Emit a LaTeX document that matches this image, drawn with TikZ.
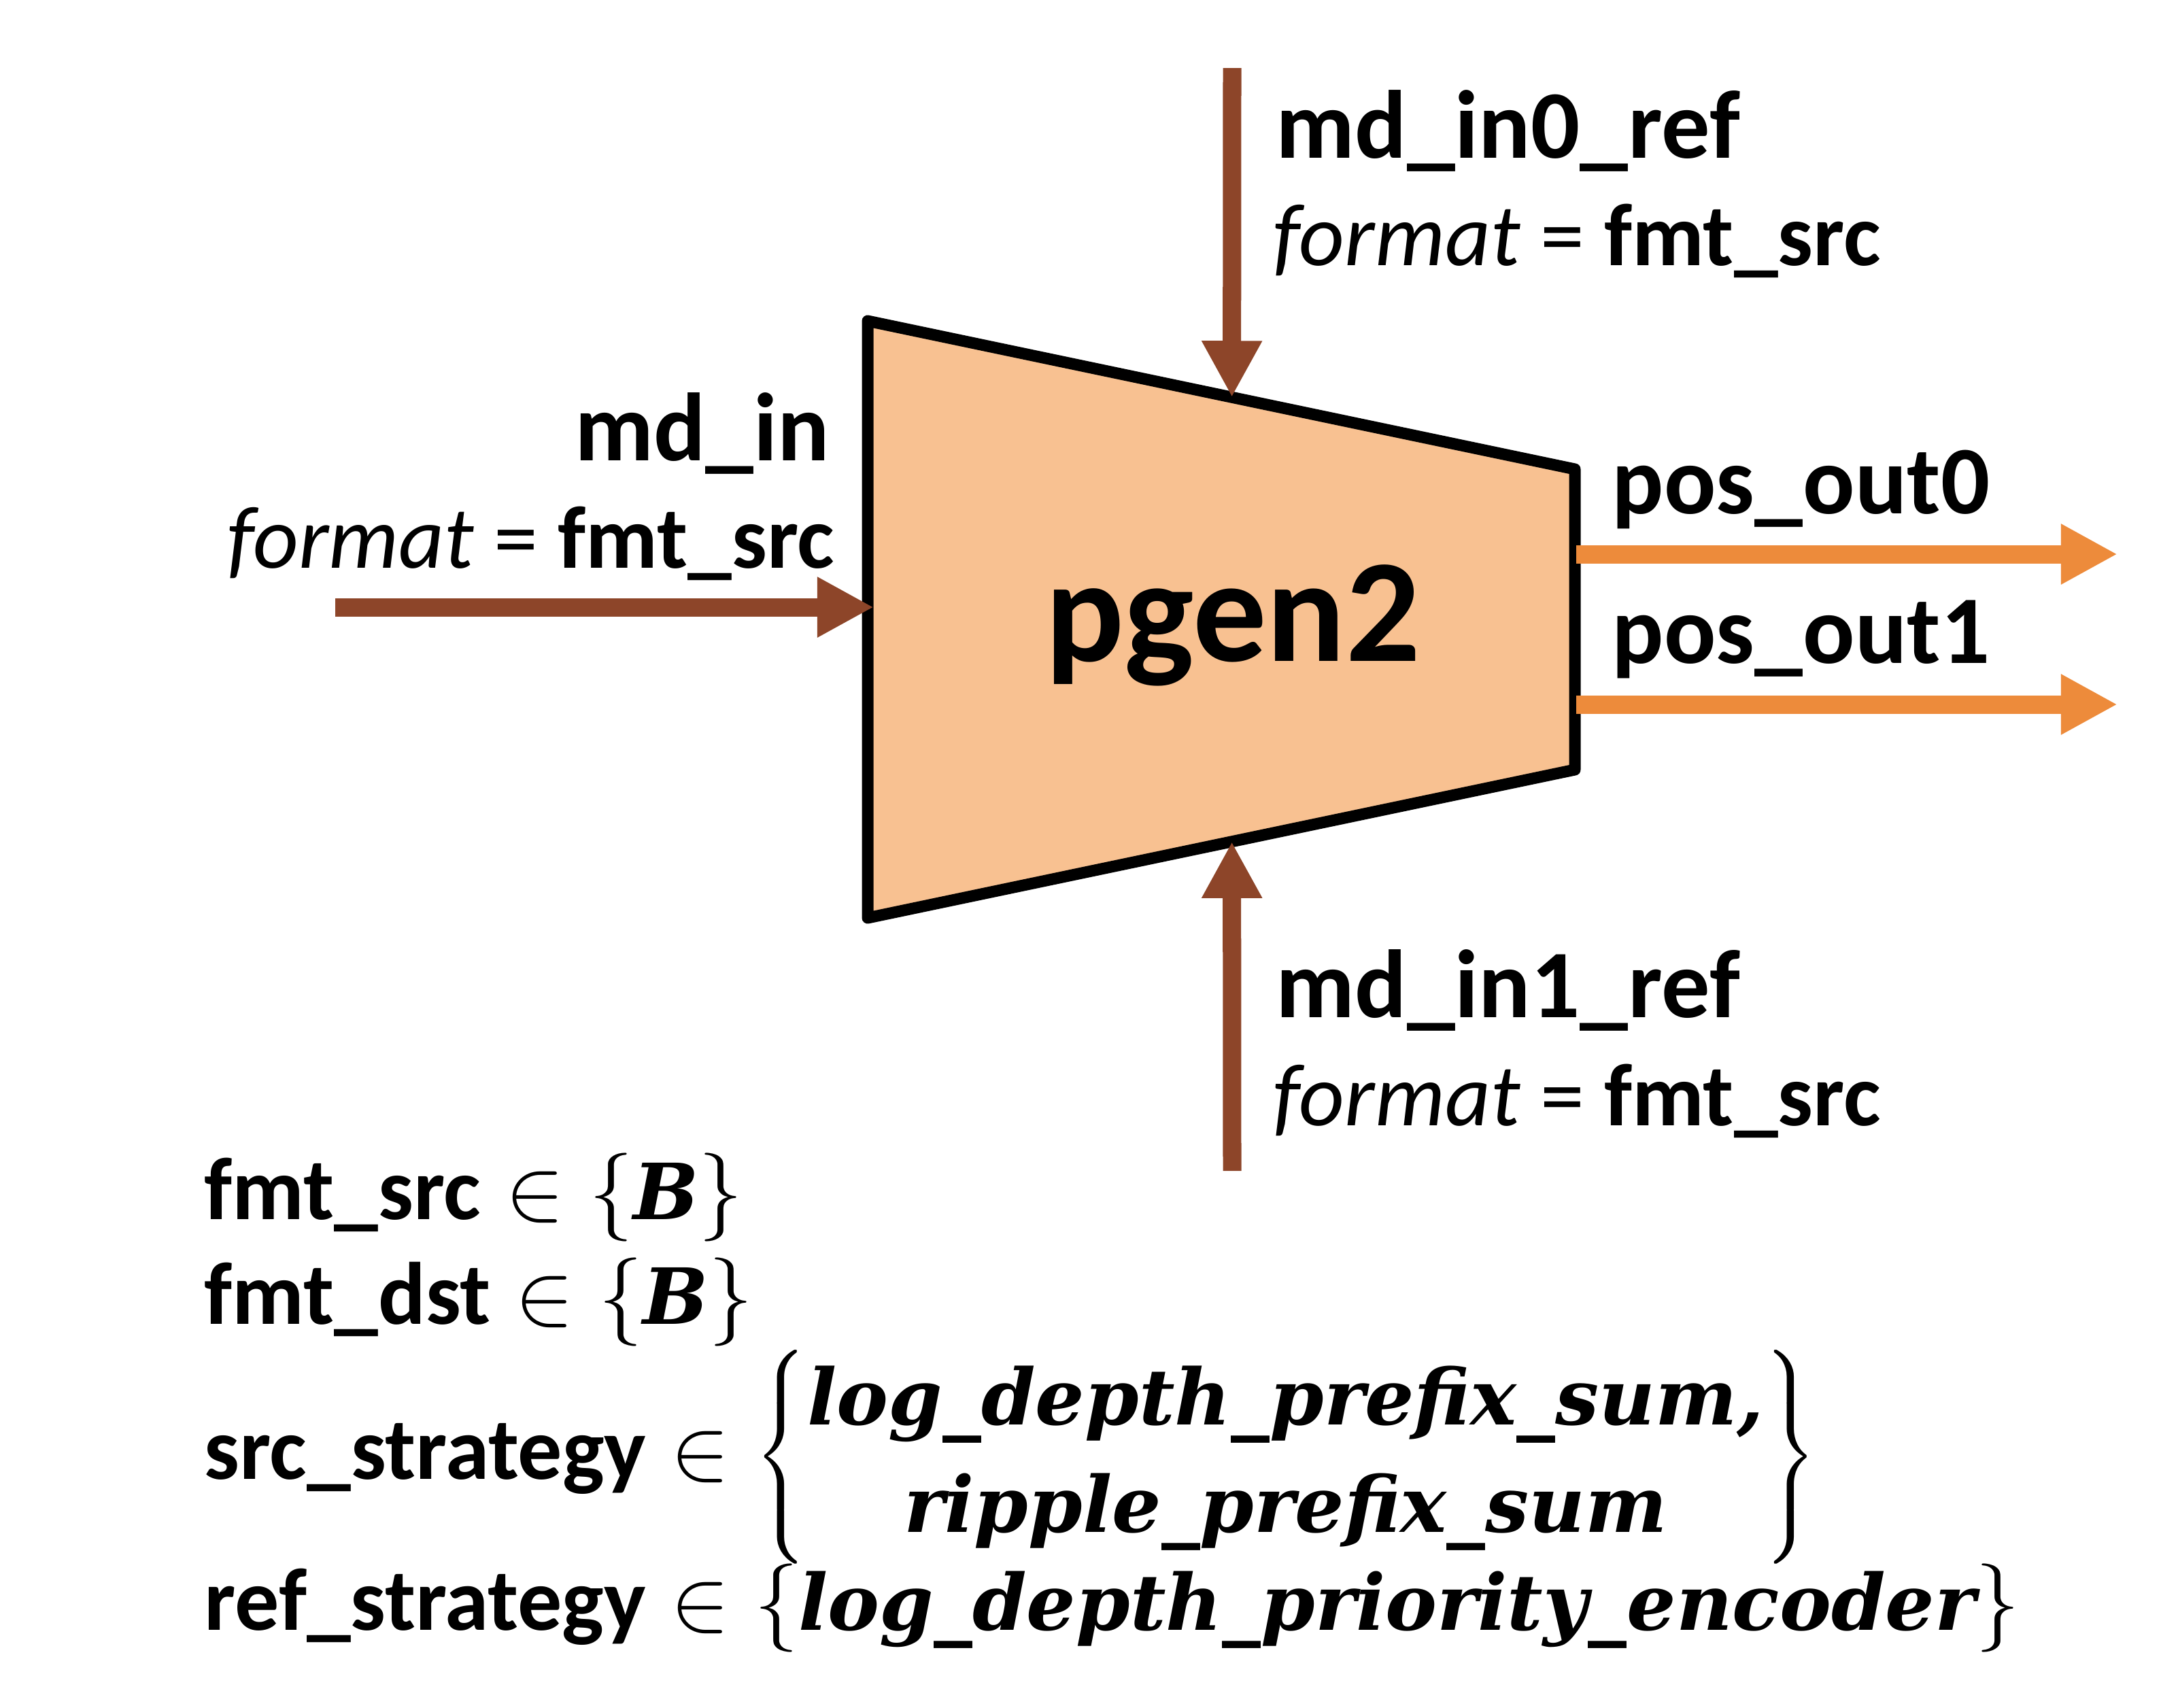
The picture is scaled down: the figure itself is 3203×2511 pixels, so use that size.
\RequirePackage{fix-cm}
\documentclass[tikz,border=0pt]{standalone}
\usepackage{amsmath}
\usepackage{fontspec}
\setmainfont{Carlito}
\newfontfamily\identfont{DejaVu Serif}
\usetikzlibrary{arrows.meta,calc,positioning}
\definecolor{blockfill}{RGB}{248,193,145}
\definecolor{inbrown}{RGB}{141,69,41}
\definecolor{outorange}{RGB}{237,139,59}
\newcommand{\ident}[1]{\text{\fontsize{32.4}{45}\selectfont\identfont\bfseries\itshape #1}}

\begin{document}
\begin{tikzpicture}
  [x=0.01cm,y=-0.01cm,
   inarrow/.style={draw=inbrown,line width=0.27cm,-{Triangle[length=0.83cm,width=0.83cm]}},
   outarrow/.style={draw=outorange,line width=0.27cm,-{Triangle[length=0.83cm,width=0.83cm]}},
   lbl/.style={inner sep=0pt,font=\fontsize{40.5}{48}\selectfont},
   fmtlbl/.style={inner sep=0pt,font=\fontsize{37}{45}\selectfont}]
  \useasboundingbox (0,0) rectangle (3203,2511);
  % the block
  \coordinate (tl) at (1276,472);
  \coordinate (tr) at (2316,690);
  \coordinate (br) at (2316,1132);
  \coordinate (bl) at (1276,1350);
  \draw[line width=0.17cm,line join=round,fill=blockfill] (tl) -- (tr) -- (br) -- (bl) -- cycle;
  \node[inner sep=0pt,font=\fontsize{61.5}{70}\selectfont\bfseries,anchor=base] (pgen) at (1813,972) {pgen2};
  % inputs
  \coordinate (in) at (493,893);
  \coordinate (inend) at (1285,893);
  \coordinate (in0) at (1812,100);
  \coordinate (in0end) at ($(tl)!0.515!(tr)$);
  \coordinate (in1) at (1812,1722);
  \coordinate (in1end) at ($(bl)!0.515!(br)$);
  \draw[inarrow] (in) -- (inend);
  \draw[inarrow] (in0) -- (in0end);
  \draw[inarrow] (in1) -- (in1end);
  % outputs
  \foreach \y/\name in {815/out0,1036/out1}{
    \coordinate (\name) at (2318,\y);
    \coordinate (\name end) at (3114,\y);
    \draw[outarrow] (\name) -- (\name end);
  }
  % port labels
  \node[lbl,anchor=base east] (mdin) at (1221,677) {\bfseries md\_in};
  \node[fmtlbl,anchor=base east] (mdinfmt) at (1228,835) {\itshape format \upshape= \bfseries fmt\_src};
  \node[lbl,anchor=base west] (mdin0) at (1876,232) {\bfseries md\_in0\_ref};
  \node[fmtlbl,anchor=base west] (mdin0fmt) at (1872,390) {\itshape format \upshape= \bfseries fmt\_src};
  \node[lbl,anchor=base west] (mdin1) at (1876,1496) {\bfseries md\_in1\_ref};
  \node[fmtlbl,anchor=base west] (mdin1fmt) at (1872,1655) {\itshape format \upshape= \bfseries fmt\_src};
  \node[lbl,anchor=base west] (pos0) at (2370,755) {\bfseries pos\_out0};
  \node[lbl,anchor=base west] (pos1) at (2370,975) {\bfseries pos\_out1};
  % parameters
  \node[fmtlbl,anchor=base west] (fsrc) at (300,1793) {\textbf{fmt\_src}${}\in\{\ident{B}\}$};
  \node[fmtlbl,anchor=base west] (fdst) at (300,1947) {\textbf{fmt\_dst}${}\in\{\ident{B}\}$};
  \node[fmtlbl,anchor=base west] (sstr) at (300,2175) {\textbf{src\_strategy}${}\in\left\{\begin{matrix}\ident{log\_depth\_prefix\_sum,}\\ \ident{ripple\_prefix\_sum}\end{matrix}\right\}$};
  \node[fmtlbl,anchor=base west] (rstr) at (300,2397) {\textbf{ref\_strategy}${}\in\{\ident{log\_depth\_priority\_encoder}\}$};
\end{tikzpicture}
\end{document}
